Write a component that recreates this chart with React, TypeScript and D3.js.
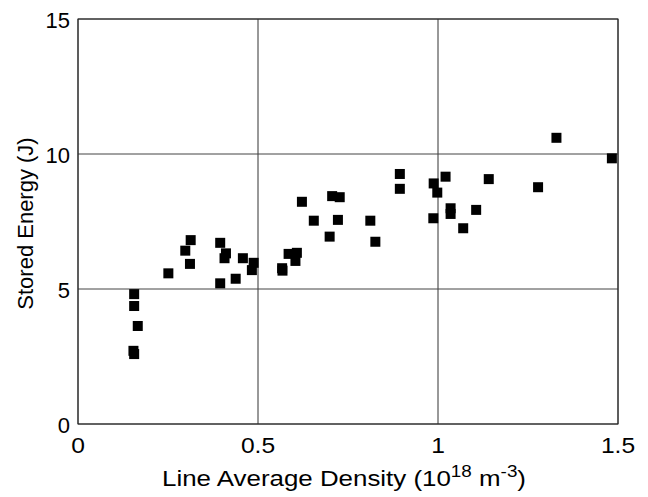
import React from "react";
import * as d3 from "d3";

const densities = [
  0.156, 0.156, 0.166, 0.154, 0.156, 0.251, 0.298, 0.311, 0.313, 0.395,
  0.395, 0.407, 0.411, 0.438, 0.458, 0.483, 0.488, 0.567, 0.568, 0.585,
  0.604, 0.608, 0.622, 0.655, 0.699, 0.706, 0.722, 0.727, 0.812, 0.826,
  0.894, 0.894, 0.987, 0.988, 0.998, 1.021, 1.035, 1.035, 1.07, 1.106,
  1.141, 1.278, 1.329, 1.483,
];
const energies = [
  4.81, 4.37, 3.63, 2.71, 2.59, 5.58, 6.42, 5.93, 6.81, 6.71,
  5.21, 6.14, 6.32, 5.38, 6.14, 5.7, 5.97, 5.77, 5.68, 6.3,
  6.04, 6.34, 8.23, 7.53, 6.94, 8.44, 7.56, 8.4, 7.53, 6.75,
  9.26, 8.71, 7.62, 8.91, 8.57, 9.16, 7.99, 7.78, 7.25, 7.93,
  9.07, 8.77, 10.6, 9.84,
];
const xTicks = [0, 0.5, 1, 1.5];
const xTickLabels = ["0", "0.5", "1", "1.5"];
const yTicks = [0, 5, 10, 15];
const yTickLabels = ["0", "5", "10", "15"];

export default function App() {
  const W = 648, H = 497;
  const left = 78, right = 618, top = 19, bottom = 424;
  const x = d3.scaleLinear().domain([0, 1.5]).range([left, right]);
  const y = d3.scaleLinear().domain([0, 15]).range([bottom, top]);
  const font = "Arial, 'Liberation Sans', sans-serif";
  const ms = 10;
  return (
    <svg width={W} height={H} style={{ position: "absolute", left: 0, top: 0, background: "#fff" }}>
      <rect x={0} y={0} width={W} height={H} fill="#fff" />
      {xTicks.map((t) => (
        <line key={"gx" + t} x1={x(t)} x2={x(t)} y1={top} y2={bottom} stroke="#333" strokeWidth={1} />
      ))}
      {yTicks.map((t) => (
        <line key={"gy" + t} x1={left} x2={right} y1={y(t)} y2={y(t)} stroke="#444" strokeWidth={1} />
      ))}
      <rect x={left} y={top} width={right - left} height={bottom - top} fill="none" stroke="#222" strokeWidth={1} />
      {densities.map((d, i) => (
        <rect key={i} x={x(d) - ms / 2} y={y(energies[i]) - ms / 2} width={ms} height={ms} fill="#000" />
      ))}
      {xTicks.map((t, i) => (
        <text
          key={"xl" + t}
          transform={`translate(${x(t)}, 453) scale(1.12, 1)`}
          textAnchor="middle"
          fontFamily={font}
          fontSize={22}
          fill="#000"
        >
          {xTickLabels[i]}
        </text>
      ))}
      {yTicks.map((t, i) => (
        <text key={"yl" + t} x={70} y={y(t) + 8.5} textAnchor="end" fontFamily={font} fontSize={22} fill="#000">
          {yTickLabels[i]}
        </text>
      ))}
      <text
        x={162}
        y={486}
        textLength={364}
        lengthAdjust="spacingAndGlyphs"
        fontFamily={font}
        fontSize={22}
        fill="#000"
      >
        Line Average Density (10
        <tspan dy={-9} fontSize={16}>18</tspan>
        <tspan dy={9}> m</tspan>
        <tspan dy={-9} fontSize={16}>-3</tspan>
        <tspan dy={9}>)</tspan>
      </text>
      <text
        transform={`translate(33, 223.5) rotate(-90)`}
        textAnchor="middle"
        fontFamily={font}
        fontSize={22}
        fill="#000"
      >
        Stored Energy (J)
      </text>
    </svg>
  );
}
